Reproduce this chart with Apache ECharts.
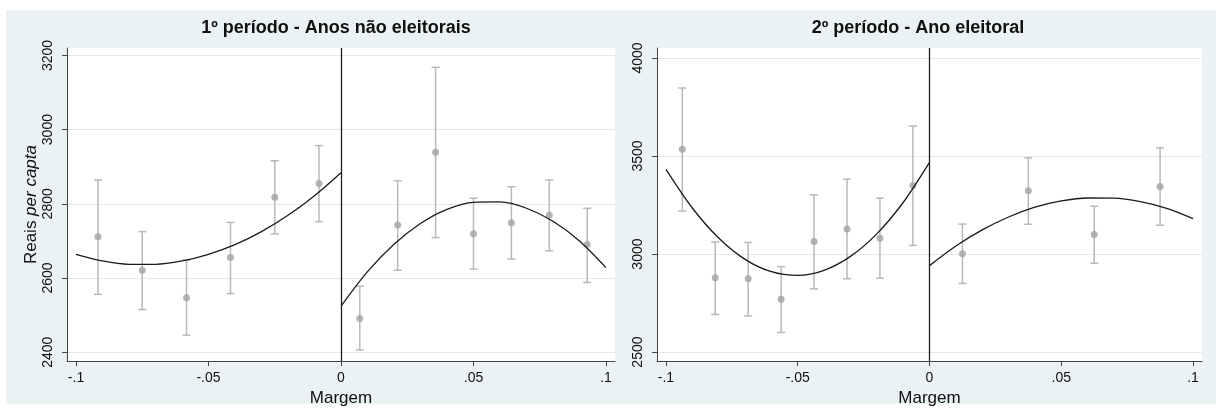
<!DOCTYPE html>
<html>
<head>
<meta charset="utf-8">
<script src="https://cdn.jsdelivr.net/npm/echarts@6.0.0/dist/echarts.min.js"></script>
<style>
  html, body { margin: 0; padding: 0; background: #fff; }
  #chart { width: 1216px; height: 412px; }
</style>
</head>
<body>
<div id="chart"></div>
<script>
// tick labels
const xTicks = [-0.1, -0.05, 0, 0.05, 0.1];
const yTicksP1 = [2400, 2600, 2800, 3000, 3200];
const yTicksP2 = [2500, 3000, 3500, 4000];

// 1º período - bin means with confidence bars
const p1LeftX = [-0.0917, -0.075, -0.0583, -0.0417, -0.025, -0.0083];
const p1LeftMean = [2711, 2621, 2547, 2655, 2818, 2855];
const p1LeftLow = [2556, 2515, 2446, 2558, 2719, 2752];
const p1LeftHigh = [2864, 2725, 2648, 2750, 2916, 2957];

const p1RightX = [0.0071, 0.0214, 0.0357, 0.05, 0.0643, 0.0786, 0.0929];
const p1RightMean = [2491, 2743, 2939, 2719, 2749, 2769, 2690];
const p1RightLow = [2406, 2621, 2709, 2624, 2651, 2673, 2588];
const p1RightHigh = [2578, 2862, 3168, 2815, 2846, 2864, 2788];

// fitted curves, every .01
const fitLeftX = [-0.1, -0.09, -0.08, -0.07, -0.06, -0.05, -0.04, -0.03, -0.02, -0.01, 0];
const fitRightX = [0, 0.01, 0.02, 0.03, 0.04, 0.05, 0.06, 0.07, 0.08, 0.09, 0.1];

const p1FitLeftY = [2664, 2646, 2637, 2637, 2646, 2664, 2690, 2725, 2769, 2822, 2884];
const p1FitRightY = [2524, 2617, 2691, 2747, 2785, 2804, 2805, 2788, 2753, 2700, 2628];

// 2º período - bin means with confidence bars
const p2LeftX = [-0.0938, -0.0813, -0.0688, -0.0563, -0.0438, -0.0313, -0.0188, -0.0063];
const p2LeftMean = [3535, 2879, 2874, 2769, 3064, 3128, 3081, 3350];
const p2LeftLow = [3219, 2692, 2684, 2600, 2823, 2874, 2877, 3044];
const p2LeftHigh = [3847, 3062, 3059, 2936, 3302, 3382, 3286, 3653];

const p2RightX = [0.0125, 0.0375, 0.0625, 0.0875];
const p2RightMean = [3002, 3323, 3100, 3345];
const p2RightLow = [2850, 3152, 2953, 3147];
const p2RightHigh = [3153, 3491, 3244, 3542];

const p2FitLeftY = [3432, 3235, 3082, 2973, 2910, 2891, 2917, 2988, 3103, 3263, 3468];
const p2FitRightY = [2941, 3041, 3123, 3189, 3239, 3271, 3286, 3285, 3267, 3233, 3181];

const FONT = '"Liberation Sans", Arial, Helvetica, sans-serif';

function zip() {
  const cols = Array.prototype.slice.call(arguments);
  return cols[0].map((_, i) => cols.map(c => c[i]));
}

function fmtX(v) {
  if (v === 0) return '0';
  return (v < 0 ? '-' : '') + String(Math.abs(v)).replace(/^0/, '');
}

function errorBar(params, api) {
  const x = api.value(0);
  const lo = api.coord([x, api.value(1)]);
  const hi = api.coord([x, api.value(2)]);
  const cap = 4;
  const style = { stroke: '#b9b9b9', lineWidth: 1.5 };
  return {
    type: 'group',
    children: [
      { type: 'line', shape: { x1: lo[0], y1: lo[1], x2: hi[0], y2: hi[1] }, style: style },
      { type: 'line', shape: { x1: lo[0] - cap, y1: lo[1], x2: lo[0] + cap, y2: lo[1] }, style: style },
      { type: 'line', shape: { x1: hi[0] - cap, y1: hi[1], x2: hi[0] + cap, y2: hi[1] }, style: style }
    ]
  };
}

function makeX(idx) {
  return {
    type: 'value', gridIndex: idx,
    min: -0.1034, max: 0.1034,
    name: 'Margem', nameLocation: 'middle', nameGap: 26,
    nameTextStyle: { fontFamily: FONT, fontSize: 17, color: '#111' },
    axisLine: { onZero: false, lineStyle: { color: '#444', width: 1 } },
    axisTick: { customValues: xTicks, length: 5, lineStyle: { color: '#444' } },
    axisLabel: { customValues: xTicks, formatter: fmtX, margin: 10, fontFamily: FONT, fontSize: 14, color: '#111' },
    splitLine: { show: false }
  };
}

function makeY(idx, min, max, ticks, name) {
  return {
    type: 'value', gridIndex: idx, min: min, max: max,
    name: name, nameLocation: 'middle', nameGap: 27,
    nameTextStyle: { fontFamily: FONT, fontSize: 17, color: '#111', rich: { i: { fontFamily: FONT, fontSize: 17, fontStyle: 'italic', color: '#111' } } },
    axisLine: { show: true, onZero: false, lineStyle: { color: '#444', width: 1 } },
    axisTick: { show: true, customValues: ticks, length: 5, lineStyle: { color: '#444' } },
    axisLabel: { customValues: ticks, formatter: v => String(v), rotate: 90, margin: 12, fontFamily: FONT, fontSize: 14, color: '#111' },
    splitLine: { show: true, lineStyle: { color: '#e2eced', width: 1 } }
  };
}

function panelSeries(idx, lx, lm, ll, lh, rx, rm, rl, rh, fly, fry) {
  const zeroLine = {
    silent: true, symbol: ['none', 'none'], label: { show: false },
    lineStyle: { color: '#222', width: 1.3, type: 'solid' },
    data: [{ xAxis: 0 }]
  };
  return [
    { type: 'custom', xAxisIndex: idx, yAxisIndex: idx, renderItem: errorBar,
      encode: { x: 0, y: [1, 2] }, data: zip(lx, ll, lh).concat(zip(rx, rl, rh)), z: 2 },
    { type: 'scatter', xAxisIndex: idx, yAxisIndex: idx, symbolSize: 7,
      itemStyle: { color: '#a3a3a3' }, data: zip(lx, lm).concat(zip(rx, rm)), z: 3 },
    { type: 'line', xAxisIndex: idx, yAxisIndex: idx, smooth: 0.3, showSymbol: false,
      lineStyle: { color: '#1a1a1a', width: 1.3 }, data: zip(fitLeftX, fly), z: 4, markLine: zeroLine },
    { type: 'line', xAxisIndex: idx, yAxisIndex: idx, smooth: 0.3, showSymbol: false,
      lineStyle: { color: '#1a1a1a', width: 1.3 }, data: zip(fitRightX, fry), z: 4 }
  ];
}

const chart = echarts.init(document.getElementById('chart'), null, { renderer: 'canvas' });

const option = {
  animation: false,
  backgroundColor: '#eaf2f3',
  graphic: [
    { type: 'rect', shape: { x: 0, y: 0, width: 1216, height: 10 }, style: { fill: '#fff' }, silent: true },
    { type: 'rect', shape: { x: 0, y: 404, width: 1216, height: 8 }, style: { fill: '#fff' }, silent: true },
    { type: 'rect', shape: { x: 0, y: 0, width: 6, height: 412 }, style: { fill: '#fff' }, silent: true },
    { type: 'text', x: 336, y: 28, style: { text: '1º período - Anos não eleitorais', fontFamily: FONT, fontSize: 18, fontWeight: 'bold', fill: '#111', align: 'center', verticalAlign: 'middle' } },
    { type: 'text', x: 918, y: 28, style: { text: '2º período - Ano eleitoral', fontFamily: FONT, fontSize: 18, fontWeight: 'bold', fill: '#111', align: 'center', verticalAlign: 'middle' } }
  ],
  grid: [
    { left: 67, top: 48, width: 548, height: 314, show: true, backgroundColor: '#fff', borderWidth: 0 },
    { left: 657, top: 48, width: 545, height: 314, show: true, backgroundColor: '#fff', borderWidth: 0 }
  ],
  xAxis: [makeX(0), makeX(1)],
  yAxis: [
    makeY(0, 2376, 3220, yTicksP1, 'Reais {i|per capta}'),
    makeY(1, 2454, 4051, yTicksP2, '')
  ],
  series: panelSeries(0, p1LeftX, p1LeftMean, p1LeftLow, p1LeftHigh, p1RightX, p1RightMean, p1RightLow, p1RightHigh,
                      p1FitLeftY, p1FitRightY)
    .concat(panelSeries(1, p2LeftX, p2LeftMean, p2LeftLow, p2LeftHigh, p2RightX, p2RightMean, p2RightLow, p2RightHigh,
                        p2FitLeftY, p2FitRightY))
};

chart.setOption(option);
</script>
</body>
</html>
